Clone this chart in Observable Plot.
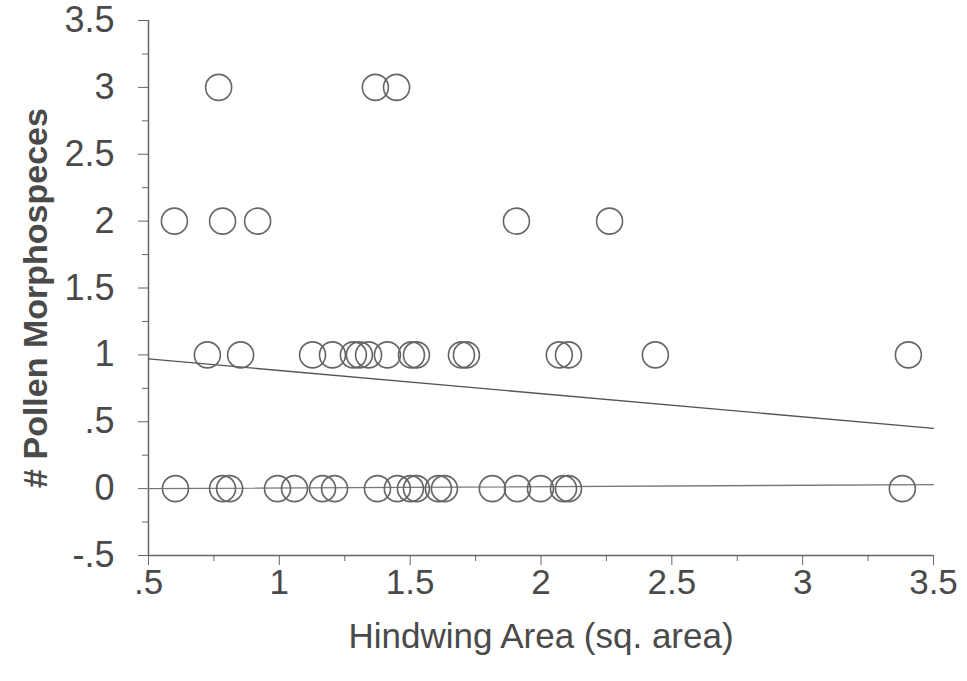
<!DOCTYPE html>
<html>
<head>
<meta charset="utf-8">
<script src="https://cdn.jsdelivr.net/npm/d3@7"></script>
<script src="https://cdn.jsdelivr.net/npm/@observablehq/plot@0.6"></script>
<style>
  html, body { margin: 0; padding: 0; background: #fff; }
</style>
</head>
<body>
<div id="chart"></div>
<script>
// Hindwing area of specimens, grouped by number of pollen morphospecies carried
const areaWith0 = [0.603, 0.783, 0.810, 0.993, 1.058, 1.165, 1.211, 1.375, 1.451, 1.501, 1.524, 1.608, 1.631, 1.814, 1.910, 1.998, 2.086, 2.105, 3.381];
const areaWith1 = [0.725, 0.852, 1.127, 1.203, 1.283, 1.306, 1.341, 1.413, 1.505, 1.524, 1.696, 1.715, 2.070, 2.105, 2.437, 3.404];
const areaWith2 = [0.599, 0.783, 0.917, 1.906, 2.262];
const areaWith3 = [0.768, 1.367, 1.448];

// fitted lines (end points)
const fitX = [0.5, 3.5];
const fitAllY = [0.97, 0.45];
const fitZeroY = [0.0, 0.03];

// axis ticks
const xMajor = [0.5, 1, 1.5, 2, 2.5, 3, 3.5];
const xMinor = [0.75, 1.25, 1.75, 2.25, 2.75, 3.25];
const yMajor = [-0.5, 0, 0.5, 1, 1.5, 2, 2.5, 3, 3.5];
const yMinor = [-0.25, 0.25, 0.75, 1.25, 1.75, 2.25, 2.75, 3.25];

const xTitle = "Hindwing Area (sq. area)";
const yTitle = "# Pollen Morphospeces";

const points = [
  ...areaWith0.map(x => ({x, y: 0})),
  ...areaWith1.map(x => ({x, y: 1})),
  ...areaWith2.map(x => ({x, y: 2})),
  ...areaWith3.map(x => ({x, y: 3}))
];
const fitAll = fitX.map((x, i) => ({x, y: fitAllY[i]}));
const fitZero = fitX.map((x, i) => ({x, y: fitZeroY[i]}));

const fmt = d => d === 0 ? "0" : String(d).replace("0.", ".");
const ink = "#4a4a4a";

const chart = Plot.plot({
  width: 967,
  height: 681,
  marginLeft: 148,
  marginRight: 34,
  marginTop: 20,
  marginBottom: 126,
  x: {domain: [0.5, 3.5], label: null},
  y: {domain: [-0.5, 3.5], label: null},
  style: {
    fontFamily: "'Liberation Sans', Arial, sans-serif",
    fontSize: "35px",
    color: ink,
    background: "#fff"
  },
  marks: [
    Plot.ruleX([0.5], {y1: -0.5, y2: 3.5, stroke: "#666", strokeWidth: 1.5}),
    Plot.ruleY([-0.5], {x1: 0.5, x2: 3.5, stroke: "#666", strokeWidth: 1.5}),
    Plot.axisX(xMajor, {tickSize: 10, tickPadding: 4, tickFormat: fmt, label: null, stroke: "#666", fill: ink, fontSize: 35}),
    Plot.axisX(xMinor, {tickSize: 6, tickFormat: () => "", label: null, stroke: "#666"}),
    Plot.axisY(yMajor, {tickSize: 10, tickPadding: 24, tickFormat: fmt, label: null, stroke: "#666", fill: ink, fontSize: 36}),
    Plot.axisY(yMinor, {tickSize: 6, tickFormat: () => "", label: null, stroke: "#666"}),
    Plot.line(fitAll, {x: "x", y: "y", stroke: "#555", strokeWidth: 1.3}),
    Plot.line(fitZero, {x: "x", y: "y", stroke: "#777", strokeWidth: 1.3}),
    Plot.dot(points, {x: "x", y: "y", r: 13, stroke: "#666", strokeWidth: 1.6, fill: "none"}),
    Plot.text([xTitle], {frameAnchor: "bottom", dy: 81, fontSize: 35, fill: ink, textAnchor: "middle", lineAnchor: "middle"}),
    Plot.text([yTitle], {frameAnchor: "left", dx: -112, dy: 10, rotate: -90, fontSize: 34, fontWeight: "bold", fill: ink, textAnchor: "middle", lineAnchor: "middle"})
  ]
});

document.getElementById("chart").appendChild(chart);
</script>
</body>
</html>
